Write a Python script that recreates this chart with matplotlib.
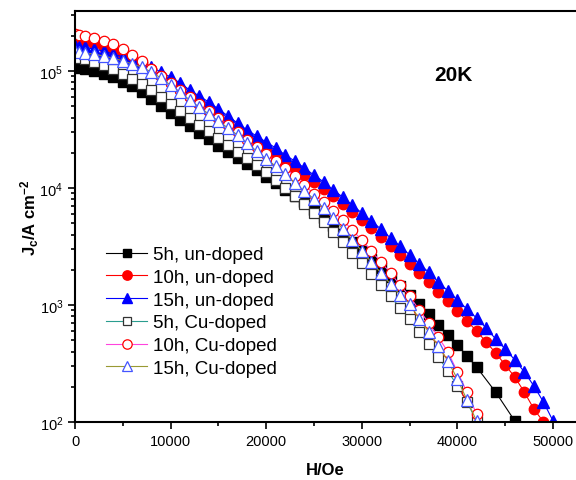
import matplotlib
matplotlib.use('Agg')
import matplotlib.pyplot as plt
from matplotlib.ticker import MultipleLocator, LogLocator, NullFormatter

plt.rcParams['font.family'] = ['Liberation Sans', 'DejaVu Sans']
plt.rcParams['mathtext.fontset'] = 'custom'
plt.rcParams['mathtext.rm'] = 'Liberation Sans'
plt.rcParams['mathtext.bf'] = 'Liberation Sans:bold'
plt.rcParams['mathtext.it'] = 'Liberation Sans:italic'

# field values (Oe) and Jc values (A/cm^2)
h_5h_un = [0, 400, 1000, 2000, 3000, 4000, 5000, 6000, 7000, 8000, 9000, 10000,
           11000, 12000, 13000, 14000, 15000, 16000, 17000, 18000, 19000, 20000,
           21000, 22000, 23000, 24000, 25000, 26000, 27000, 28000, 29000, 30000,
           31000, 32000, 33000, 34000, 35000, 36000, 37000, 38000, 39000, 40000,
           41000, 42000, 44000, 46000]
jc_5h_un = [1.08e5, 1.06e5, 1.04e5, 1.00e5, 9.43e4, 8.89e4, 8.05e4, 7.44e4, 6.61e4,
            5.76e4, 5.02e4, 4.38e4, 3.81e4, 3.39e4, 2.95e4, 2.62e4, 2.29e4, 2.03e4,
            1.80e4, 1.60e4, 1.42e4, 1.24e4, 1.10e4, 9.61e3, 8.54e3, 7.59e3, 6.49e3,
            5.54e3, 4.73e3, 4.04e3, 3.46e3, 2.89e3, 2.47e3, 2.07e3, 1.74e3, 1.45e3,
            1.22e3, 1.02e3, 838, 675, 554, 455, 367, 295, 180, 102]

h_10h_un = [0, 400, 1000, 2000, 3000, 4000, 5000, 6000, 7000, 8000, 9000, 10000,
            11000, 12000, 13000, 14000, 15000, 16000, 17000, 18000, 19000, 20000,
            21000, 22000, 23000, 24000, 25000, 26000, 27000, 28000, 29000, 30000,
            31000, 32000, 33000, 34000, 35000, 36000, 37000, 38000, 39000, 40000,
            41000, 42000, 43000, 44000, 45000, 46000, 47000, 48000, 49000]
jc_10h_un = [1.88e5, 1.84e5, 1.80e5, 1.70e5, 1.60e5, 1.51e5, 1.40e5, 1.29e5, 1.17e5,
             1.04e5, 9.07e4, 7.90e4, 6.88e4, 6.00e4, 5.22e4, 4.55e4, 4.05e4, 3.59e4,
             3.13e4, 2.78e4, 2.47e4, 2.15e4, 1.88e4, 1.67e4, 1.45e4, 1.29e4, 1.13e4,
             9.80e3, 8.54e3, 7.30e3, 6.24e3, 5.33e3, 4.55e3, 3.81e3, 3.19e3, 2.68e3,
             2.24e3, 1.88e3, 1.57e3, 1.29e3, 1.08e3, 889, 730, 600, 483, 389, 307,
             242, 180, 129, 100]

h_15h_un = [0, 400, 1000, 2000, 3000, 4000, 5000, 6000, 7000, 8000, 9000, 10000,
            11000, 12000, 13000, 14000, 15000, 16000, 17000, 18000, 19000, 20000,
            21000, 22000, 23000, 24000, 25000, 26000, 27000, 28000, 29000, 30000,
            31000, 32000, 33000, 34000, 35000, 36000, 37000, 38000, 39000, 40000,
            41000, 42000, 43000, 44000, 45000, 46000, 47000, 48000, 49000, 50000]
jc_15h_un = [1.64e5, 1.62e5, 1.60e5, 1.54e5, 1.48e5, 1.40e5, 1.32e5, 1.24e5, 1.17e5,
             1.08e5, 9.80e4, 8.89e4, 7.90e4, 6.88e4, 6.11e4, 5.43e4, 4.73e4, 4.13e4,
             3.59e4, 3.13e4, 2.78e4, 2.47e4, 2.20e4, 1.91e4, 1.70e4, 1.48e4, 1.29e4,
             1.13e4, 9.61e3, 8.38e3, 7.16e3, 6.11e3, 5.22e3, 4.46e3, 3.74e3, 3.19e3,
             2.68e3, 2.24e3, 1.91e3, 1.57e3, 1.32e3, 1.10e3, 924, 774, 636, 512, 421,
             339, 268, 203, 148, 102]

h_cu = [0, 400, 1000, 2000, 3000, 4000, 5000, 6000, 7000, 8000, 9000, 10000,
        11000, 12000, 13000, 14000, 15000, 16000, 17000, 18000, 19000, 20000,
        21000, 22000, 23000, 24000, 25000, 26000, 27000, 28000, 29000, 30000,
        31000, 32000, 33000, 34000, 35000, 36000, 37000, 38000, 39000, 40000,
        41000, 42000]
jc_5h_cu = [1.32e5, 1.30e5, 1.27e5, 1.19e5, 1.13e5, 1.04e5, 9.43e4, 8.54e4, 7.74e4,
            6.88e4, 6.00e4, 5.22e4, 4.55e4, 3.97e4, 3.46e4, 3.07e4, 2.68e4, 2.33e4,
            2.03e4, 1.80e4, 1.57e4, 1.37e4, 1.17e4, 1.00e4, 8.54e3, 7.30e3, 6.11e3,
            5.12e3, 4.25e3, 3.45e3, 2.78e3, 2.29e3, 1.84e3, 1.48e3, 1.19e3, 943, 759,
            588, 464, 359, 273, 203, 148, 102]
jc_10h_cu = [2.07e5, 2.04e5, 2.00e5, 1.92e5, 1.80e5, 1.70e5, 1.54e5, 1.37e5, 1.22e5,
             1.04e5, 9.07e4, 7.90e4, 6.88e4, 6.00e4, 5.22e4, 4.55e4, 3.97e4, 3.46e4,
             3.01e4, 2.57e4, 2.24e4, 1.95e4, 1.70e4, 1.48e4, 1.27e4, 1.06e4, 8.89e3,
             7.59e3, 6.36e3, 5.33e3, 4.38e3, 3.59e3, 2.89e3, 2.33e3, 1.88e3, 1.48e3,
             1.19e3, 907, 702, 533, 397, 268, 180, 117]
jc_15h_cu = [1.48e5, 1.45e5, 1.42e5, 1.40e5, 1.34e5, 1.29e5, 1.22e5, 1.15e5, 1.08e5,
             9.80e4, 8.71e4, 7.59e4, 6.61e4, 5.65e4, 4.92e4, 4.29e4, 3.74e4, 3.26e4,
             2.84e4, 2.42e4, 2.07e4, 1.77e4, 1.54e4, 1.32e4, 1.10e4, 9.43e3, 8.05e3,
             6.75e3, 5.54e3, 4.46e3, 3.59e3, 2.89e3, 2.33e3, 1.88e3, 1.51e3, 1.22e3,
             1.03e3, 759, 588, 446, 332, 233, 154, 102]

fig = plt.figure(figsize=(5.76, 4.81), dpi=100)
ax = fig.add_axes([75 / 576, 1 - 423 / 481, 1 - 75 / 576, 411 / 481])

lw = 0.8
ax.plot(h_5h_un, jc_5h_un, '-s', color='black', lw=lw, ms=6.5,
        mfc='black', mec='black', label='5h, un-doped')
ax.plot(h_10h_un, jc_10h_un, '-o', color='red', lw=lw, ms=7.5,
        mfc='red', mec='red', label='10h, un-doped')
ax.plot(h_15h_un, jc_15h_un, '-^', color='blue', lw=lw, ms=8,
        mfc='blue', mec='blue', label='15h, un-doped')
ax.plot(h_cu, jc_5h_cu, '-s', color='#2a9d8f', lw=lw, ms=6.5,
        mfc='white', mec='#333333', mew=0.9, label='5h, Cu-doped')
ax.plot(h_cu, jc_10h_cu, '-o', color='#ff44dd', lw=lw, ms=7.5,
        mfc='white', mec='red', mew=0.9, label='10h, Cu-doped')
ax.plot(h_cu, jc_15h_cu, '-^', color='#999933', lw=lw, ms=8,
        mfc='white', mec='#4455ff', mew=0.9, label='15h, Cu-doped')

ax.set_yscale('log')
ax.set_xlim(0, 52400)
ax.set_ylim(100, 3.26e5)

ax.xaxis.set_major_locator(MultipleLocator(10000))
ax.xaxis.set_minor_locator(MultipleLocator(5000))
ax.yaxis.set_major_locator(LogLocator(base=10))
ax.yaxis.set_minor_locator(LogLocator(base=10, subs=range(2, 10)))
ax.yaxis.set_minor_formatter(NullFormatter())

ax.spines['right'].set_visible(False)
for s in ['left', 'bottom', 'top']:
    ax.spines[s].set_linewidth(1.5)
ax.tick_params(which='both', direction='out', width=1.2, labelsize=10.5)
ax.tick_params(which='major', length=5)
ax.tick_params(which='minor', length=3)
ax.tick_params(right=False, top=False)

ax.set_xlabel('H/Oe', fontsize=12, fontweight='bold', labelpad=10)
ax.set_ylabel(r'J$_\mathbf{c}$/A cm$^\mathbf{-2}$', fontsize=12,
              fontweight='bold', labelpad=-1)

ax.text(0.755, 0.845, '20K', transform=ax.transAxes, fontsize=15,
        fontweight='bold', ha='center', va='center')

ax.legend(loc='upper left', bbox_to_anchor=(0.062, 0.428), frameon=False,
          fontsize=13.5, handlelength=2.2, handletextpad=0.3, labelspacing=0.3,
          borderaxespad=0, borderpad=0, markerscale=0.9)

fig.savefig('out.png', dpi=100)
